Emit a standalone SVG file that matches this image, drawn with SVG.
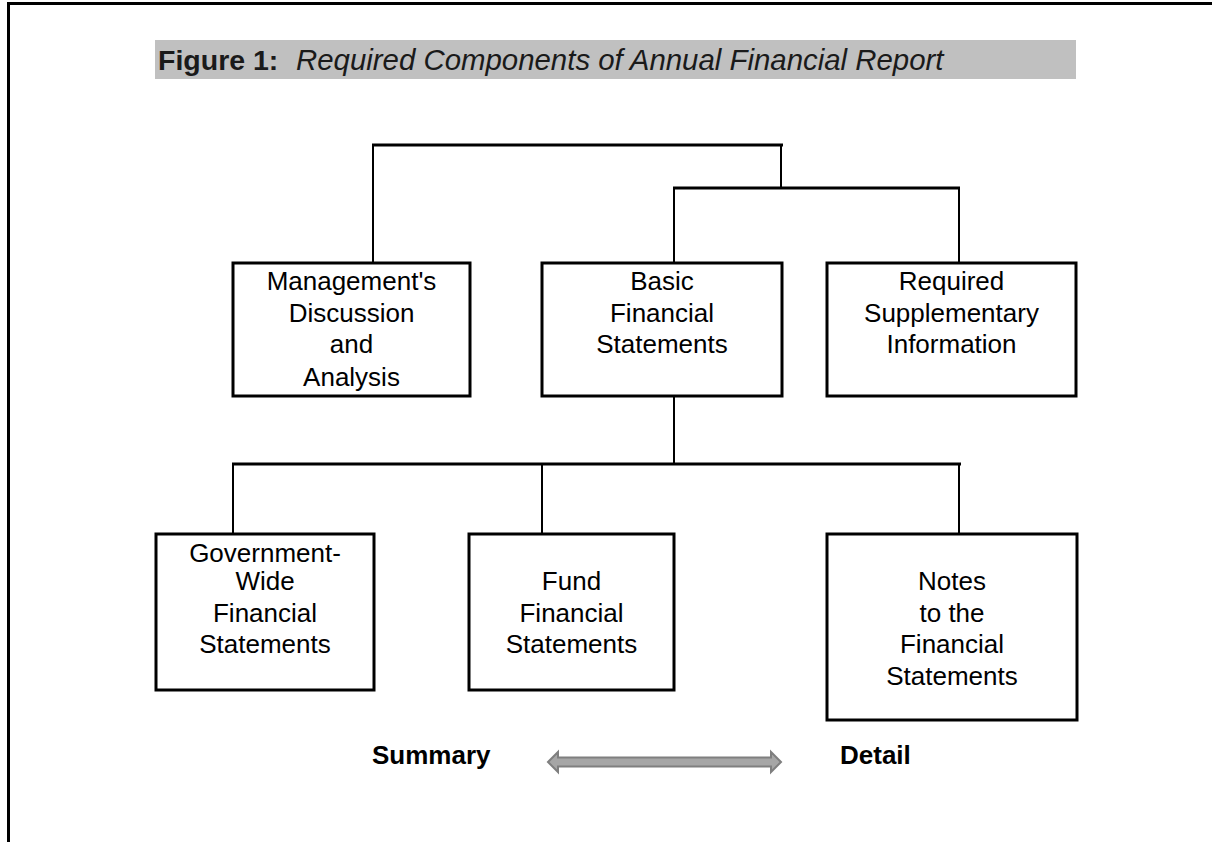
<svg xmlns="http://www.w3.org/2000/svg" width="1212" height="842" viewBox="0 0 1212 842">
<style>
.box{fill:#fff;stroke:#000;stroke-width:3}
.lbl{font-family:"Liberation Sans",Arial,sans-serif;font-size:26px;fill:#000;text-anchor:middle}
.h{stroke:#000;stroke-width:3;fill:none}
.v{stroke:#000;stroke-width:2;fill:none}
.b{font-family:"Liberation Sans",Arial,sans-serif;font-size:26px;font-weight:bold;fill:#000}
</style>
<rect width="1212" height="842" fill="#fff"/>
<g id="frame">
<line x1="7" y1="3.5" x2="1212" y2="3.5" stroke="#000" stroke-width="3"/>
<line x1="8.5" y1="2" x2="8.5" y2="842" stroke="#000" stroke-width="3"/>
</g>
<g id="title">
<rect x="155" y="40" width="921" height="39" fill="#c0c0c0"/>
<text x="158" y="70" font-family="'Liberation Sans',Arial,sans-serif" font-size="28.5" font-weight="bold" fill="#1a1a1a">Figure 1:</text>
<text x="296" y="70" font-family="'Liberation Sans',Arial,sans-serif" font-size="29.4" font-style="italic" fill="#1a1a1a">Required Components of Annual Financial Report</text>
</g>
<g id="connectors">
<line class="h" x1="372" y1="145" x2="783" y2="145"/>
<line class="v" x1="373" y1="145" x2="373" y2="262"/>
<line class="v" x1="781" y1="145" x2="781" y2="188"/>
<line class="h" x1="673" y1="188" x2="960" y2="188"/>
<line class="v" x1="674" y1="188" x2="674" y2="262"/>
<line class="v" x1="959" y1="188" x2="959" y2="262"/>
<line class="v" x1="674" y1="396" x2="674" y2="464"/>
<line class="h" x1="232" y1="464" x2="961" y2="464"/>
<line class="v" x1="233" y1="464" x2="233" y2="534"/>
<line class="v" x1="542" y1="464" x2="542" y2="534"/>
<line class="v" x1="959" y1="464" x2="959" y2="534"/>
</g>
<g id="mdna">
<rect class="box" x="233" y="263" width="237" height="133"/>
<text class="lbl" x="351.5" y="290">Management's</text>
<text class="lbl" x="351.5" y="322">Discussion</text>
<text class="lbl" x="351.5" y="353">and</text>
<text class="lbl" x="351.5" y="386">Analysis</text>
</g>
<g id="basic">
<rect class="box" x="542" y="263" width="240" height="133"/>
<text class="lbl" x="662" y="290">Basic</text>
<text class="lbl" x="662" y="322">Financial</text>
<text class="lbl" x="662" y="353">Statements</text>
</g>
<g id="rsi">
<rect class="box" x="827" y="263" width="249" height="133"/>
<text class="lbl" x="951.5" y="290">Required</text>
<text class="lbl" x="951.5" y="322">Supplementary</text>
<text class="lbl" x="951.5" y="353">Information</text>
</g>
<g id="govwide">
<rect class="box" x="156" y="534" width="218" height="156"/>
<text class="lbl" x="265" y="562">Government-</text>
<text class="lbl" x="265" y="590">Wide</text>
<text class="lbl" x="265" y="622">Financial</text>
<text class="lbl" x="265" y="653">Statements</text>
</g>
<g id="fund">
<rect class="box" x="469" y="534" width="205" height="156"/>
<text class="lbl" x="571.5" y="590">Fund</text>
<text class="lbl" x="571.5" y="622">Financial</text>
<text class="lbl" x="571.5" y="653">Statements</text>
</g>
<g id="notes">
<rect class="box" x="827" y="534" width="250" height="186"/>
<text class="lbl" x="952" y="590">Notes</text>
<text class="lbl" x="952" y="622">to the</text>
<text class="lbl" x="952" y="653">Financial</text>
<text class="lbl" x="952" y="685">Statements</text>
</g>
<g id="scale">
<text class="b" x="372" y="764">Summary</text>
<text class="b" x="840" y="764">Detail</text>
<polygon points="548,762 558,752 558,757.5 771,757.5 771,752 781,762 771,772 771,766.5 558,766.5 558,772" fill="#a6a6a6" stroke="#7f7f7f" stroke-width="2" stroke-linejoin="miter"/>
</g>
</svg>
